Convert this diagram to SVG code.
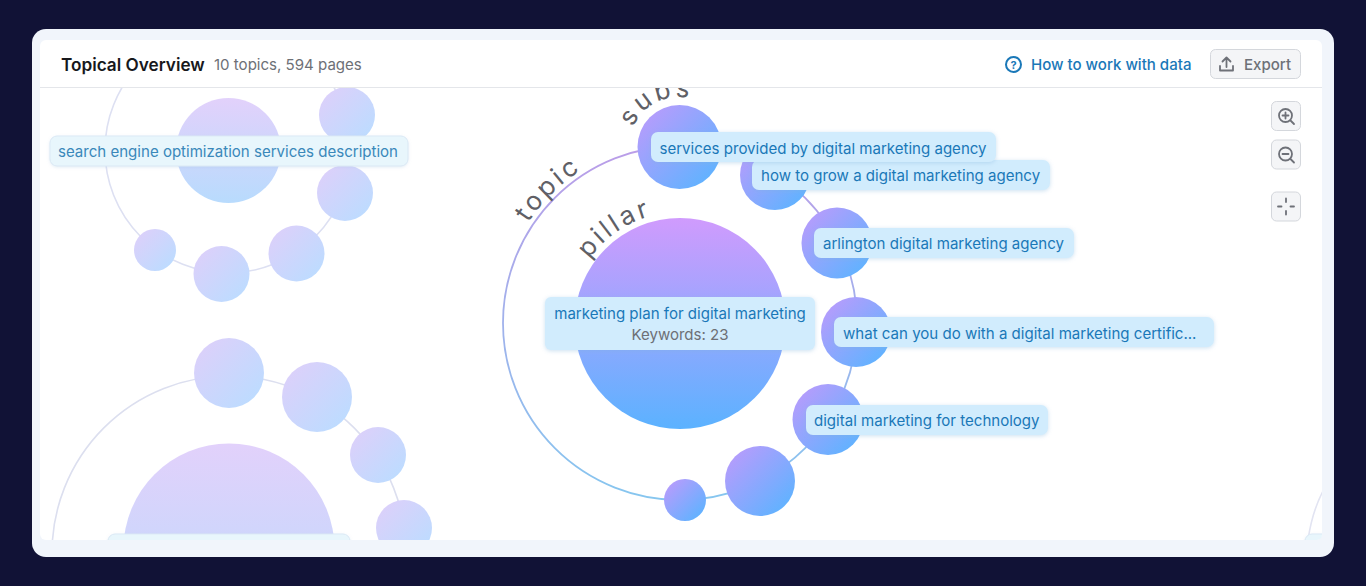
<svg xmlns="http://www.w3.org/2000/svg" width="1366" height="586" viewBox="0 0 1366 586">
<style>
text{font-family:"Inter","Liberation Sans",sans-serif}
.lb{font-size:15.05px;fill:#1a78b8}
.lbf{font-size:15.05px;fill:#3a88ba}
.pill{fill:#d1ecfd;filter:url(#sh)}
.pillf{fill:#e8f6fc;stroke:#dbe9f5;stroke-width:1;filter:url(#shf)}
.n{fill:url(#gn)}
.nf{fill:url(#gnf)}
.arc{font-size:26px;fill:#606066;letter-spacing:3.2px}
.btn{fill:#f4f5f7;stroke:#d4d7dc;stroke-width:1}
.ic{fill:none;stroke:#6e7178;stroke-width:1.8;stroke-linecap:round;stroke-linejoin:round}
</style>
<defs>
<linearGradient id="gp" x1="0" y1="0" x2="0" y2="1"><stop offset="0" stop-color="#d09bfd"/><stop offset="1" stop-color="#5bb2ff"/></linearGradient>
<linearGradient id="gpf" x1="0" y1="0" x2="0" y2="1"><stop offset="0" stop-color="#e2d1fb"/><stop offset="1" stop-color="#b8dbfd"/></linearGradient>
<linearGradient id="gn" x1="0.1" y1="0.1" x2="0.9" y2="0.9"><stop offset="0" stop-color="#b79cfc"/><stop offset="1" stop-color="#5eb3ff"/></linearGradient>
<linearGradient id="gnf" x1="0.1" y1="0.1" x2="0.9" y2="0.9"><stop offset="0" stop-color="#dcd0fa"/><stop offset="1" stop-color="#bcdcff"/></linearGradient>
<linearGradient id="gr" gradientUnits="userSpaceOnUse" x1="0" y1="146" x2="0" y2="500"><stop offset="0" stop-color="#bb9de8"/><stop offset="1" stop-color="#86c6ef"/></linearGradient>
<filter id="sh" x="-10%" y="-30%" width="120%" height="170%"><feDropShadow dx="0" dy="1" stdDeviation="2" flood-color="#7fb4dc" flood-opacity="0.4"/></filter>
<filter id="shf" x="-10%" y="-30%" width="120%" height="170%"><feDropShadow dx="0" dy="1" stdDeviation="1.5" flood-color="#a9c8e0" flood-opacity="0.3"/></filter>
<clipPath id="chart"><rect x="40" y="88" width="1282" height="452" rx="5"/></clipPath>
<path id="pTopic" d="M498 323A182 182 0 0 1 680 141"/>
<path id="pPillar" d="M569 323A111 111 0 0 1 680 212"/>
<path id="pSubs" d="M629 147A50 50 0 0 1 729 147"/>
</defs>
<rect width="1366" height="586" fill="#111236"/>
<rect x="32" y="29" width="1302" height="528" rx="14" fill="#f1f5fb"/>
<rect x="40" y="40" width="1282" height="500" rx="6" fill="#fff"/>
<g id="header">
<text x="61" y="70.500" font-size="17.2px" font-weight="600" fill="#17181c">Topical Overview</text>
<text x="214" y="70" font-size="15.05px" fill="#6d7076">10 topics, 594 pages</text>
<circle cx="1013.500" cy="64.500" r="7.500" fill="none" stroke="#1a78b8" stroke-width="2"/>
<text x="1013.500" y="69" font-size="11px" font-weight="700" text-anchor="middle" fill="#1a78b8">?</text>
<text x="1031" y="70" font-size="15.05px" font-weight="500" fill="#1a78b8">How to work with data</text>
<rect class="btn" x="1210.500" y="49.500" width="90" height="29" rx="5"/>
<path class="ic" d="M1226.500 67V58M1222.500 61.500L1226.500 57.500L1230.500 61.500M1220 66V70.500H1233V66"/>
<text x="1244" y="70" font-size="15.05px" font-weight="500" fill="#6e7178">Export</text>
<line x1="40" y1="87.500" x2="1322" y2="87.500" stroke="#e4e6ea" stroke-width="1"/>
</g>
<g clip-path="url(#chart)">
<g id="connectors" fill="none">
<circle cx="228" cy="150" r="123" stroke="#dde0f2" stroke-width="1.600"/>
<circle cx="229" cy="553" r="177" stroke="#dcdfef" stroke-width="1.600"/>
<circle cx="680" cy="323" r="177" stroke="url(#gr)" stroke-width="1.800"/>
<path d="M1323 491Q1312 512 1308 540" stroke="#e2e4f2" stroke-width="1.600"/>
</g>
<g id="topic-a">
<circle cx="228.500" cy="150.500" r="52.500" fill="url(#gpf)"/>
<circle class="nf" cx="347" cy="115" r="28"/>
<circle class="nf" cx="345" cy="193" r="28"/>
<circle class="nf" cx="296.500" cy="253.500" r="28"/>
<circle class="nf" cx="221.500" cy="274" r="28"/>
<circle class="nf" cx="155" cy="250" r="21"/>
<rect class="pillf" x="50" y="136" width="358" height="30" rx="7"/>
<text class="lbf" x="58" y="156.500">search engine optimization services description</text>
</g>
<g id="topic-b">
<circle cx="229" cy="549" r="105.500" fill="url(#gpf)"/>
<circle class="nf" cx="229" cy="373" r="35"/>
<circle class="nf" cx="317" cy="397" r="35"/>
<circle class="nf" cx="378" cy="455" r="28"/>
<circle class="nf" cx="404" cy="528" r="28"/>
<rect class="pillf" x="108" y="534" width="242" height="30" rx="7"/>
</g>
<g id="topic-c">
<rect class="pillf" x="1305" y="534" width="60" height="30" rx="7"/>
</g>
<g id="pillar">
<circle cx="680" cy="323.500" r="105.500" fill="url(#gp)"/>
<rect class="pill" x="545" y="297" width="270" height="53" rx="6"/>
<text class="lb" x="680" y="318.500" text-anchor="middle">marketing plan for digital marketing</text>
<text x="680" y="339.500" font-size="15.05px" text-anchor="middle" fill="#6d7076">Keywords: 23</text>
</g>
<g id="node-grow">
<circle class="n" cx="775" cy="175" r="35"/>
<rect class="pill" x="752" y="160" width="298" height="30" rx="7"/>
<text class="lb" x="761" y="181">how to grow a digital marketing agency</text>
</g>
<g id="node-services">
<circle class="n" cx="679.500" cy="147" r="42"/>
<rect class="pill" x="651" y="132" width="345" height="30" rx="7"/>
<text class="lb" x="659.500" y="153.500">services provided by digital marketing agency</text>
</g>
<g id="node-arlington">
<circle class="n" cx="837" cy="243" r="35.500"/>
<rect class="pill" x="814" y="228" width="260" height="30" rx="7"/>
<text class="lb" x="823" y="249">arlington digital marketing agency</text>
</g>
<g id="node-certificate">
<circle class="n" cx="856" cy="332" r="35"/>
<rect class="pill" x="834" y="317" width="380" height="30" rx="7"/>
<text class="lb" x="843" y="338.500">what can you do with a digital marketing certific...</text>
</g>
<g id="node-technology">
<circle class="n" cx="828" cy="419.500" r="35.500"/>
<rect class="pill" x="806" y="405" width="242" height="30" rx="7"/>
<text class="lb" x="814" y="425.500">digital marketing for technology</text>
</g>
<g id="node-6"><circle class="n" cx="760" cy="481" r="35"/></g>
<g id="node-7"><circle class="n" cx="685" cy="500" r="21"/></g>
<g id="curved-labels">
<text class="arc"><textPath href="#pTopic" startOffset="106">topic</textPath></text>
<text class="arc"><textPath href="#pPillar" startOffset="68">pillar</textPath></text>
<text class="arc"><textPath href="#pSubs" startOffset="20">subs</textPath></text>
</g>
</g>
<g id="zoom-controls">
<rect class="btn" x="1271.500" y="101.500" width="29" height="29" rx="5"/>
<circle class="ic" cx="1285.500" cy="115.500" r="6.500"/><path class="ic" d="M1290.500 120.500L1294 124M1285.500 112.500V118.500M1282.500 115.500H1288.500"/>
<rect class="btn" x="1271.500" y="140" width="29" height="29" rx="5"/>
<circle class="ic" cx="1285.500" cy="154" r="6.500"/><path class="ic" d="M1290.500 159L1294 162.500M1282.500 154H1288.500"/>
<rect class="btn" x="1271.500" y="192" width="29" height="29" rx="5"/>
<path class="ic" d="M1286 198.500V202M1286 211V214.500M1278 206.500H1281.500M1290.500 206.500H1294"/>
</g>
</svg>
